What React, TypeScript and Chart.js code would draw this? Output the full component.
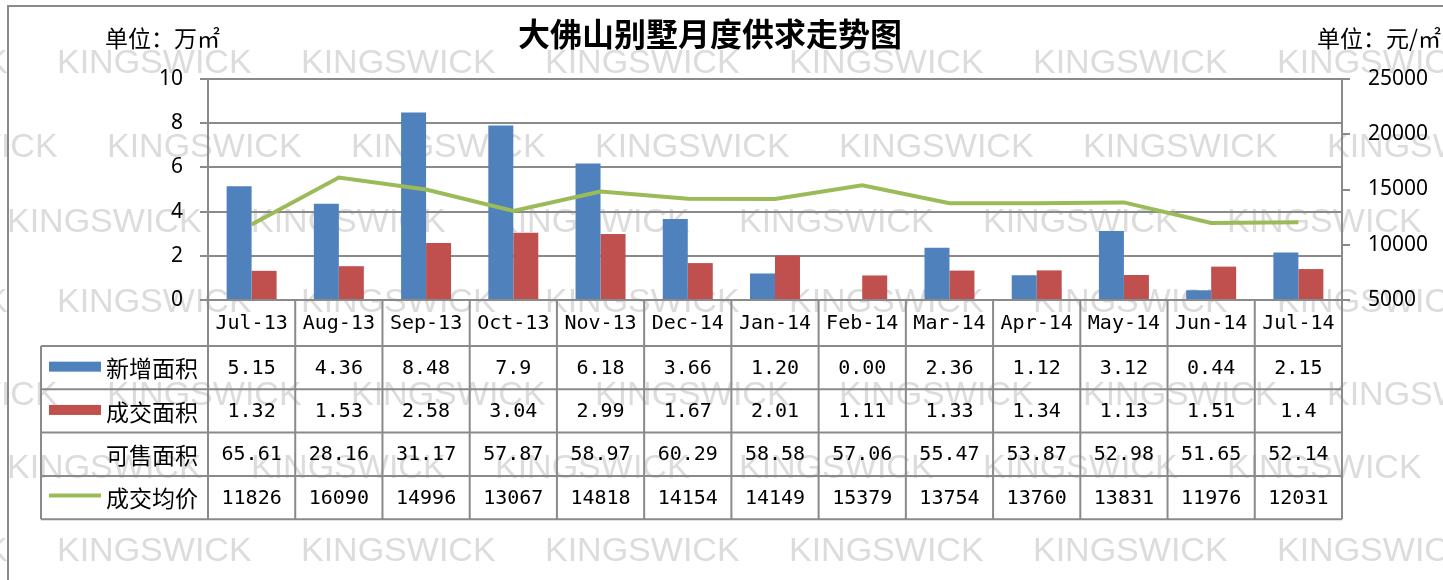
import React, { useEffect, useRef } from 'react';
import { Chart, registerables } from 'chart.js';

Chart.register(...registerables);

// ---------- data ----------
const months = ['Jul-13', 'Aug-13', 'Sep-13', 'Oct-13', 'Nov-13', 'Dec-14', 'Jan-14', 'Feb-14', 'Mar-14', 'Apr-14', 'May-14', 'Jun-14', 'Jul-14'];
const newSupplyText = ['5.15', '4.36', '8.48', '7.9', '6.18', '3.66', '1.20', '0.00', '2.36', '1.12', '3.12', '0.44', '2.15'];
const dealAreaText = ['1.32', '1.53', '2.58', '3.04', '2.99', '1.67', '2.01', '1.11', '1.33', '1.34', '1.13', '1.51', '1.4'];
const availableText = ['65.61', '28.16', '31.17', '57.87', '58.97', '60.29', '58.58', '57.06', '55.47', '53.87', '52.98', '51.65', '52.14'];
const avgPrice = [11826, 16090, 14996, 13067, 14818, 14154, 14149, 15379, 13754, 13760, 13831, 11976, 12031];

const seriesNames = ['新增面积', '成交面积', '可售面积', '成交均价'];
const titleText = '大佛山别墅月度供求走势图';
const leftUnit = '单位：万㎡';
const rightUnit = '单位：元/㎡';
const watermarkText = 'KINGSWICK';

const leftTicks = { min: 0, max: 10, step: 2 };
const rightTicks = { min: 5000, max: 25000, step: 5000 };

// ---------- styles ----------
const BLUE = '#4F81BD';
const RED = '#C0504D';
const GREEN = '#9BBB59';
const GRID = '#8a8a8a';
const W = 1443;
const H = 580;
const CJK = "'Noto Sans CJK SC', sans-serif";
const MONO = "'DejaVu Sans Mono', 'Noto Sans CJK SC', monospace";

const backgroundPlugin = {
  id: 'bgWatermark',
  beforeDraw(chart: any) {
    const ctx = chart.ctx as CanvasRenderingContext2D;
    ctx.save();
    ctx.fillStyle = '#ffffff';
    ctx.fillRect(0, 0, W, H);
    // watermark
    ctx.fillStyle = '#dcdcdc';
    ctx.font = "34px 'Liberation Sans', Arial, sans-serif";
    ctx.textBaseline = 'middle';
    ctx.textAlign = 'left';
    const rows = [
      { y: 64, x0: 57 },
      { y: 148, x0: 107 },
      { y: 223, x0: 7 },
      { y: 303, x0: 57 },
      { y: 396, x0: 107 },
      { y: 469, x0: 7 },
      { y: 552, x0: 57 },
    ];
    const step = 244;
    rows.forEach((r) => {
      for (let x = r.x0 - step; x < W; x += step) ctx.fillText(watermarkText, x, r.y);
    });
    // outer border
    ctx.strokeStyle = GRID;
    ctx.lineWidth = 2;
    ctx.beginPath();
    ctx.moveTo(8, H + 5);
    ctx.lineTo(8, 6);
    ctx.lineTo(W + 5, 6);
    ctx.stroke();
    // title
    ctx.fillStyle = '#000';
    ctx.textAlign = 'center';
    ctx.font = `bold 32px ${CJK}`;
    ctx.fillText(titleText, 710, 34);
    // units
    ctx.font = `23px ${CJK}`;
    ctx.textAlign = 'left';
    ctx.fillText(leftUnit, 105, 38);
    ctx.textAlign = 'right';
    ctx.fillText(rightUnit, 1441, 38);
    ctx.restore();
  },
};

const tablePlugin = {
  id: 'dataTable',
  afterDraw(chart: any) {
    const ctx = chart.ctx as CanvasRenderingContext2D;
    const area = chart.chartArea;
    const n = months.length;
    const colW = (area.right - area.left) / n;
    const top = area.bottom;
    const monthBottom = top + 46;
    const rowH = 43.3;
    const rowsY = [monthBottom, monthBottom + rowH, monthBottom + 2 * rowH, monthBottom + 3 * rowH, monthBottom + 4 * rowH];
    const headLeft = 41;

    ctx.save();
    ctx.strokeStyle = GRID;
    ctx.lineWidth = 2;
    ctx.beginPath();
    ctx.moveTo(area.left, top);
    ctx.lineTo(area.right, top);
    rowsY.forEach((y) => {
      ctx.moveTo(headLeft, y);
      ctx.lineTo(area.right, y);
    });
    for (let i = 0; i <= n; i++) {
      const x = area.left + i * colW;
      ctx.moveTo(x, top);
      ctx.lineTo(x, rowsY[4]);
    }
    ctx.moveTo(headLeft, rowsY[0]);
    ctx.lineTo(headLeft, rowsY[4]);
    ctx.stroke();

    ctx.fillStyle = '#000';
    ctx.textBaseline = 'middle';
    ctx.textAlign = 'center';
    ctx.font = `20px ${MONO}`;
    const xs = chart.scales.x;
    months.forEach((m, i) => {
      const cx = xs.getPixelForValue(i);
      ctx.fillText(m, cx, (top + monthBottom) / 2 + 1);
    });
    const rowTexts = [newSupplyText, dealAreaText, availableText, avgPrice.map((v) => String(v))];
    rowTexts.forEach((arr, r) => {
      const cy = (rowsY[r] + rowsY[r + 1]) / 2 + 1;
      arr.forEach((t, i) => {
        ctx.fillText(t, xs.getPixelForValue(i), cy);
      });
    });

    // row headers with legend keys
    ctx.textAlign = 'left';
    ctx.font = `23px ${CJK}`;
    seriesNames.forEach((name, r) => {
      const cy = (rowsY[r] + rowsY[r + 1]) / 2;
      ctx.fillStyle = '#000';
      ctx.fillText(name, 106, cy + 1);
      if (r === 0 || r === 1) {
        ctx.fillStyle = r === 0 ? BLUE : RED;
        ctx.fillRect(49, cy - 6, 52, 10);
      } else if (r === 3) {
        ctx.strokeStyle = GREEN;
        ctx.lineWidth = 4;
        ctx.beginPath();
        ctx.moveTo(49, cy - 2);
        ctx.lineTo(101, cy - 2);
        ctx.stroke();
      }
    });
    ctx.restore();
  },
};

export default function App() {
  const canvasRef = useRef<HTMLCanvasElement | null>(null);

  useEffect(() => {
    document.body.style.margin = '0';
    const canvas = canvasRef.current;
    if (!canvas) return;
    const tickFont = { family: "'Noto Sans', sans-serif", size: 21 };
    const chart = new Chart(canvas, {
      type: 'bar',
      data: {
        labels: months,
        datasets: [
          {
            type: 'line',
            label: seriesNames[3],
            data: avgPrice,
            yAxisID: 'y1',
            borderColor: GREEN,
            backgroundColor: GREEN,
            borderWidth: 4,
            pointRadius: 0,
            tension: 0,
            order: 0,
          } as any,
          {
            type: 'bar',
            label: seriesNames[0],
            data: newSupplyText.map((t) => parseFloat(t)),
            yAxisID: 'y',
            backgroundColor: BLUE,
            categoryPercentage: 0.573,
            barPercentage: 1,
            order: 1,
          },
          {
            type: 'bar',
            label: seriesNames[1],
            data: dealAreaText.map((t) => parseFloat(t)),
            yAxisID: 'y',
            backgroundColor: RED,
            categoryPercentage: 0.573,
            barPercentage: 1,
            order: 2,
          },
        ],
      },
      options: {
        responsive: false,
        animation: false,
        devicePixelRatio: 1,
        layout: { padding: { top: 79, bottom: 280, left: 0, right: 0 } },
        plugins: {
          legend: { display: false },
          title: { display: false },
          tooltip: { enabled: false },
        },
        scales: {
          x: { display: false, offset: true },
          y: {
            position: 'left',
            min: leftTicks.min,
            max: leftTicks.max,
            ticks: { stepSize: leftTicks.step, color: '#000', font: tickFont, padding: 17, callback: (v: any) => String(v) },
            grid: { color: GRID, lineWidth: 2, tickLength: 8, tickColor: GRID },
            border: { display: true, color: GRID, width: 2 },
            afterFit: (s: any) => {
              s.width = 208;
            },
          },
          y1: {
            position: 'right',
            min: rightTicks.min,
            max: rightTicks.max,
            ticks: { stepSize: rightTicks.step, color: '#000', font: tickFont, padding: 18, callback: (v: any) => String(v) },
            grid: { drawOnChartArea: false, color: GRID, lineWidth: 2, tickLength: 8, tickColor: GRID },
            border: { display: true, color: GRID, width: 2 },
            afterFit: (s: any) => {
              s.width = 101;
            },
          },
        },
      },
      plugins: [backgroundPlugin, tablePlugin],
    });
    return () => chart.destroy();
  }, []);

  return (
    <div style={{ width: W, height: H }}>
      <canvas ref={canvasRef} width={W} height={H} style={{ display: 'block' }} />
    </div>
  );
}
